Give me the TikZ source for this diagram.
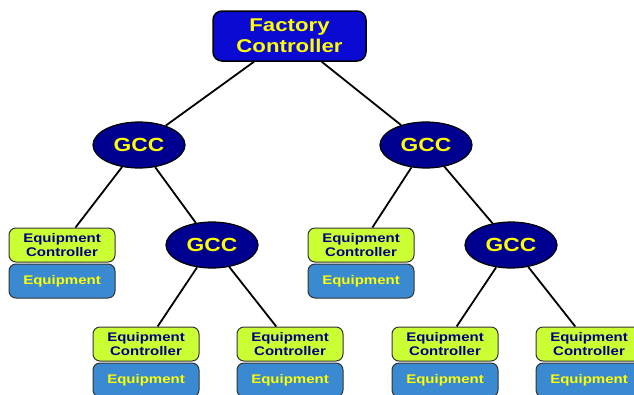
\documentclass[tikz,border=0pt]{standalone}
\usepackage{fontspec}
\setmainfont{Liberation Sans}[FakeStretch=1.2]
\usetikzlibrary{shapes.geometric}
\definecolor{fcblue}{HTML}{0A0AD2}
\definecolor{gccnavy}{HTML}{000090}
\definecolor{ecgreen}{HTML}{CCFF33}
\definecolor{eqblue}{HTML}{3A8AD2}
\definecolor{txtyellow}{HTML}{FFFF00}
\definecolor{txtnavy}{HTML}{000080}
\tikzset{
  fcbox/.style={draw=black, line width=1.5pt, fill=fcblue, rounded corners=9pt,
    minimum width=153pt, minimum height=50pt, inner sep=0pt, align=center,
    text=txtyellow, font=\fontsize{18.5}{21}\selectfont\bfseries},
  gccnode/.style={ellipse, draw=black, line width=1.2pt, fill=gccnavy,
    minimum width=92pt, minimum height=46pt, inner sep=0pt,
    text=txtyellow, font=\fontsize{19}{22}\selectfont\bfseries},
  ecbox/.style={draw=black!80, line width=1pt, fill=ecgreen, rounded corners=7pt,
    minimum width=106pt, minimum height=34pt, inner sep=0pt, align=center,
    text=txtnavy, font=\fontsize{12.5}{14}\selectfont\bfseries},
  eqbox/.style={draw=black!80, line width=1pt, fill=eqblue, rounded corners=7pt,
    minimum width=106pt, minimum height=34pt, inner sep=0pt, align=center,
    text=txtyellow, font=\fontsize{12.5}{14}\selectfont\bfseries},
  link/.style={draw=black, line width=1.8pt}
}
\begin{document}
\begin{tikzpicture}[x=1pt,y=-1pt]
\useasboundingbox (0,0) rectangle (634,394);
\clip (0,0) rectangle (634,394);
% nodes
\node[fcbox] (fc) at (289.5,36) {Factory\\Controller};
\node[gccnode] (g1) at (139,145) {GCC};
\node[gccnode] (g2) at (426,145) {GCC};
\node[gccnode] (g3) at (212,245) {GCC};
\node[gccnode] (g4) at (511,245) {GCC};
% equipment controllers and equipment
\node[ecbox] (ec1) at (62,245) {Equipment\\Controller};
\node[eqbox] (eq1) at (62,281) {Equipment};
\node[ecbox] (ec2) at (361,245) {Equipment\\Controller};
\node[eqbox] (eq2) at (361,281) {Equipment};
\node[ecbox] (ec3) at (146,344) {Equipment\\Controller};
\node[eqbox] (eq3) at (146,380) {Equipment};
\node[ecbox] (ec4) at (290,344) {Equipment\\Controller};
\node[eqbox] (eq4) at (290,380) {Equipment};
\node[ecbox] (ec5) at (445,344) {Equipment\\Controller};
\node[eqbox] (eq5) at (445,380) {Equipment};
\node[ecbox] (ec6) at (589,344) {Equipment\\Controller};
\node[eqbox] (eq6) at (589,380) {Equipment};
% links
\draw[link] (fc) -- (g1);
\draw[link] (fc) -- (g2);
\draw[link] (g1) -- (ec1);
\draw[link] (g1) -- (g3);
\draw[link] (g2) -- (ec2);
\draw[link] (g2) -- (g4);
\draw[link] (g3) -- (ec3);
\draw[link] (g3) -- (ec4);
\draw[link] (g4) -- (ec5);
\draw[link] (g4) -- (ec6);
\end{tikzpicture}
\end{document}
